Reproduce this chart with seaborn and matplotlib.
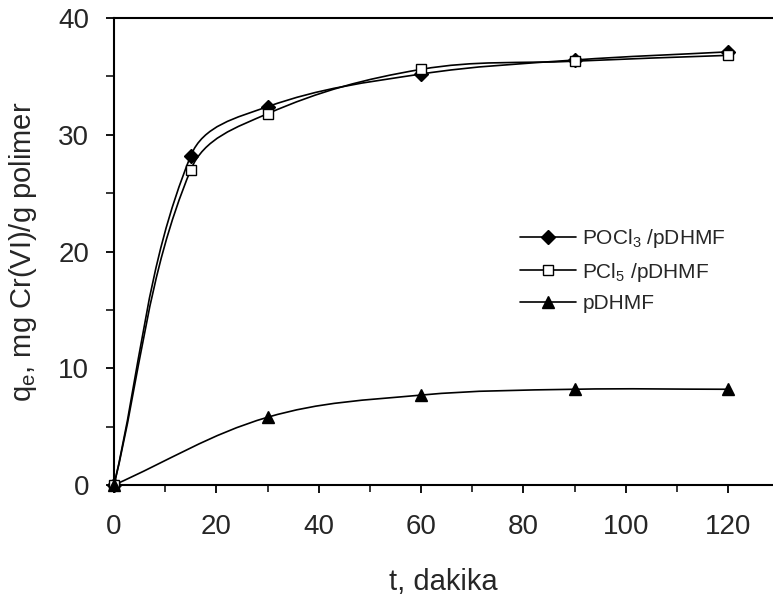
import numpy as np
import pandas as pd
import matplotlib
matplotlib.use("Agg")
import matplotlib.pyplot as plt
import seaborn as sns
from matplotlib.path import Path
from matplotlib.patches import PathPatch
from matplotlib.lines import Line2D
from matplotlib.ticker import MultipleLocator

# ---- data ----
t_pocl3 = [0, 15, 30, 60, 90, 120]
q_pocl3 = [0, 28.2, 32.4, 35.2, 36.4, 37.1]
t_pcl5 = [0, 15, 30, 60, 90, 120]
q_pcl5 = [0, 27.0, 31.8, 35.6, 36.3, 36.8]
t_pdhmf = [0, 30, 60, 90, 120]
q_pdhmf = [0, 5.8, 7.7, 8.2, 8.2]
labels = ["POCl$_3$ /pDHMF", "PCl$_5$ /pDHMF", "pDHMF"]
markers = ["D", "s", "^"]
facecolors = ["black", "white", "black"]
msizes = [7.5, 7, 9]

sns.set_style("ticks")
plt.rcParams["font.family"] = ["Liberation Sans", "DejaVu Sans"]
plt.rcParams["mathtext.fontset"] = "custom"
plt.rcParams["mathtext.rm"] = "Liberation Sans"
plt.rcParams["mathtext.it"] = "Liberation Sans"

fig = plt.figure(figsize=(7.73, 6.05), dpi=100)
ax = fig.add_axes([114 / 773, 1 - 485 / 605, 1 - 114 / 773, (485 - 18) / 605])
ax.set_xlim(0, (773 - 114) / (614 / 120))
ax.set_ylim(0, 40)


def smooth_path(x, y, ax):
    # smoothed line through the data points, built in screen space
    tr = ax.transData
    pts = tr.transform(np.column_stack([x, y]).astype(float))
    n = len(pts)
    verts = [pts[0]]
    codes = [Path.MOVETO]
    tang = []
    for i in range(n):
        a = pts[i - 1] if i > 0 else pts[i]
        b = pts[i + 1] if i < n - 1 else pts[i]
        d = b - a
        tang.append(d / np.linalg.norm(d))
    for i in range(n - 1):
        p1, p2 = pts[i], pts[i + 1]
        L = np.linalg.norm(p2 - p1) * 0.36
        c1 = p1 + tang[i] * L
        c2 = p2 - tang[i + 1] * L
        verts += [c1, c2, p2]
        codes += [Path.CURVE4] * 3
    verts = tr.inverted().transform(np.array(verts))
    return Path(verts, codes)


series = [(t_pocl3, q_pocl3), (t_pcl5, q_pcl5), (t_pdhmf, q_pdhmf)]
handles = []
for (tx, qy), lab, m, fc, ms in zip(series, labels, markers, facecolors, msizes):
    ax.add_patch(PathPatch(smooth_path(tx, qy, ax), fill=False, edgecolor="black",
                           lw=1.2, zorder=2))
    df = pd.DataFrame({"t": tx, "q": qy})
    sns.lineplot(data=df, x="t", y="q", ax=ax, marker=m, linestyle="",
                 markersize=ms, markerfacecolor=fc, markeredgecolor="black",
                 markeredgewidth=1.0, color="black", zorder=3, clip_on=False)
    handles.append(Line2D([], [], color="black", lw=1.2, marker=m,
                          markersize=ms, markerfacecolor=fc,
                          markeredgecolor="black", markeredgewidth=1.0))

ax.set_xlim(0, (773 - 114) / (614 / 120))
ax.set_ylim(0, 40)
ax.xaxis.set_major_locator(MultipleLocator(20))
ax.xaxis.set_minor_locator(MultipleLocator(10))
ax.yaxis.set_major_locator(MultipleLocator(10))
ax.yaxis.set_minor_locator(MultipleLocator(5))
ax.tick_params(axis="both", which="major", direction="out", length=6, width=1.3,
               labelsize=20, color="black")
ax.tick_params(axis="x", which="major", pad=15)
ax.tick_params(axis="y", which="major", pad=12)
ax.tick_params(axis="x", which="minor", direction="out", length=5, width=1.3)
ax.tick_params(axis="y", which="minor", direction="out", length=6, width=1.3)
for s in ["left", "bottom", "top"]:
    ax.spines[s].set_linewidth(1.5)
    ax.spines[s].set_color("black")
ax.spines["right"].set_visible(False)

ax.set_xlabel("t, dakika", fontsize=21, labelpad=20)
ax.set_ylabel("q$_{\\mathrm{e}}$, mg Cr(VI)/g polimer", fontsize=21, labelpad=14)

leg = ax.legend(handles, labels, loc="center left",
                bbox_to_anchor=(520 / 773 - 114 / 773, 0.0), bbox_transform=ax.transAxes,
                frameon=False, fontsize=15, handlelength=2.7, handletextpad=0.3,
                labelspacing=0.5, borderaxespad=0, borderpad=0)
# place legend centre at y pixel ~270 of the figure
leg.set_bbox_to_anchor(((520 - 114) / (773 - 114), (485 - 270) / (485 - 18)),
                       transform=ax.transAxes)

fig.savefig("out.png", dpi=100)
